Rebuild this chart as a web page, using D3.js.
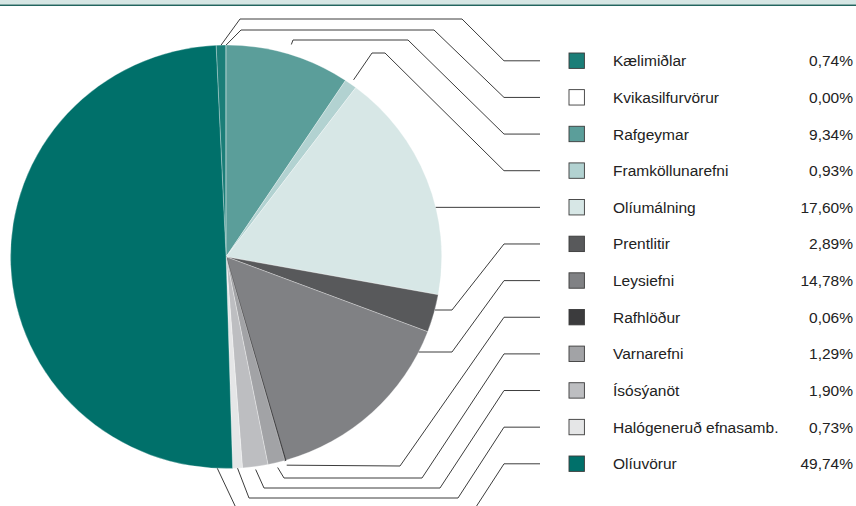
<!DOCTYPE html>
<html><head><meta charset="utf-8">
<script src="https://cdn.jsdelivr.net/npm/d3@7"></script>
<style>html,body{margin:0;padding:0;background:#fff;}svg{display:block;}</style>
</head><body>
<svg id="chart" width="856" height="506"></svg>
<script>
// ---- data ----
const categories = ["Kælimiðlar","Kvikasilfurvörur","Rafgeymar","Framköllunarefni","Olíumálning","Prentlitir","Leysiefni","Rafhlöður","Varnarefni","Ísósýanöt","Halógeneruð efnasamb.","Olíuvörur"];
const values = [0.74, 0.00, 9.34, 0.93, 17.60, 2.89, 14.78, 0.06, 1.29, 1.90, 0.73, 49.74];
const colors = ["#1b7e78","#ffffff","#5b9e9a","#b2d2d1","#d7e7e6","#58595b","#808184","#3b3b3d","#a2a3a6","#bdbec1","#e5e6e7","#00706a"];

// ---- leader-line layout ----
const leaderRunY  = [19, 30, 40, 53, null, 310, 352, 466, 478, 488, 498, 510];
const leaderRunX1 = [462, 434, 408, 385, null, 452, 452, 400, 422, 440, 458, 474];
const leaderRunX2 = [240, 241, 293, 372, null, null, null, null, 284, 264, 249, 237];
const leaderAnchor = ["mid","mid","mid","mid","edge","edge","edge","mid","mid","mid","mid",0.5065];
const leaderGap = [0,0,10,5,0,0,0,5,5,3,0,0];

const W = 856, H = 506;
const cx = 226.1, cy = 256.75, rx = 215.6, ry = 211.75;
const svg = d3.select("#chart");

// header band
svg.append("rect").attr("x",0).attr("y",0).attr("width",W).attr("height",4.6).attr("fill","#d6e6e4");
svg.append("line").attr("x1",0).attr("x2",W).attr("y1",5.3).attr("y2",5.3).attr("stroke","#22655f").attr("stroke-width",1.6);

// pie
const total = d3.sum(values);
const start = -values[0]/total*2*Math.PI;
const pie = d3.pie().sort(null).value(d=>d).startAngle(start).endAngle(start+2*Math.PI);
const arcs = pie(values);
const arc = d3.arc().innerRadius(0).outerRadius(rx);
const g = svg.append("g").attr("transform",`translate(${cx},${cy}) scale(1,${ry/rx})`);
g.selectAll("path").data(arcs).join("path")
  .attr("d",arc)
  .attr("fill",(d,i)=>colors[i])
  .attr("stroke",(d,i)=> i===7 ? colors[i] : "#ffffff")
  .attr("stroke-width",(d,i)=> i===7 ? 1.1 : 0.5)
  .attr("stroke-opacity",(d,i)=> i===7 ? 1 : 0.6);

// legend rows
const rowY = d3.scaleLinear().domain([0, categories.length-1]).range([60.8, 463.8]);
const fmt = d3.formatLocale({decimal:",", thousands:".", grouping:[3], currency:["",""]}).format(".2f");

const lg = svg.append("g");
categories.forEach((c,i)=>{
  const y = rowY(i);
  lg.append("rect").attr("x",569).attr("y",y-7.8).attr("width",15.4).attr("height",15.4)
    .attr("fill",colors[i]).attr("stroke","#3a3a3a").attr("stroke-width",0.9);
  lg.append("text").attr("x",613).attr("y",y+5.5).text(c)
    .attr("font-family","'Liberation Sans', Arial, sans-serif").attr("font-size",15.5).attr("fill","#222");
  lg.append("text").attr("x",853).attr("y",y+5.5).attr("text-anchor","end").text(fmt(values[i])+"%")
    .attr("font-family","'Liberation Sans', Arial, sans-serif").attr("font-size",15.5).attr("fill","#222");
});

// leader lines
function edgeX(y){ const t=(y-cy)/ry; return cx + rx*Math.sqrt(Math.max(0,1-t*t)); }
function anchorPoint(i){
  const a = leaderAnchor[i], gap = leaderGap[i];
  if (a === "edge"){
    const y = leaderRunY[i] != null ? leaderRunY[i] : rowY(i);
    return [edgeX(y)+gap, y];
  }
  let ang;
  if (a === "mid") ang = (arcs[i].startAngle + arcs[i].endAngle)/2;
  else ang = a*2*Math.PI;
  return [cx + (rx+gap)*Math.sin(ang), cy - (ry+gap)*Math.cos(ang)];
}
const line = d3.line();
categories.forEach((c,i)=>{
  const y = rowY(i);
  const pts = [[540,y],[504,y]];
  if (leaderRunY[i] != null){
    pts.push([leaderRunX1[i], leaderRunY[i]]);
    if (leaderRunX2[i] != null) pts.push([leaderRunX2[i], leaderRunY[i]]);
  }
  pts.push(anchorPoint(i));
  svg.append("path").attr("d",line(pts)).attr("fill","none").attr("stroke","#3c3c3c").attr("stroke-width",1);
});
</script>
</body></html>
